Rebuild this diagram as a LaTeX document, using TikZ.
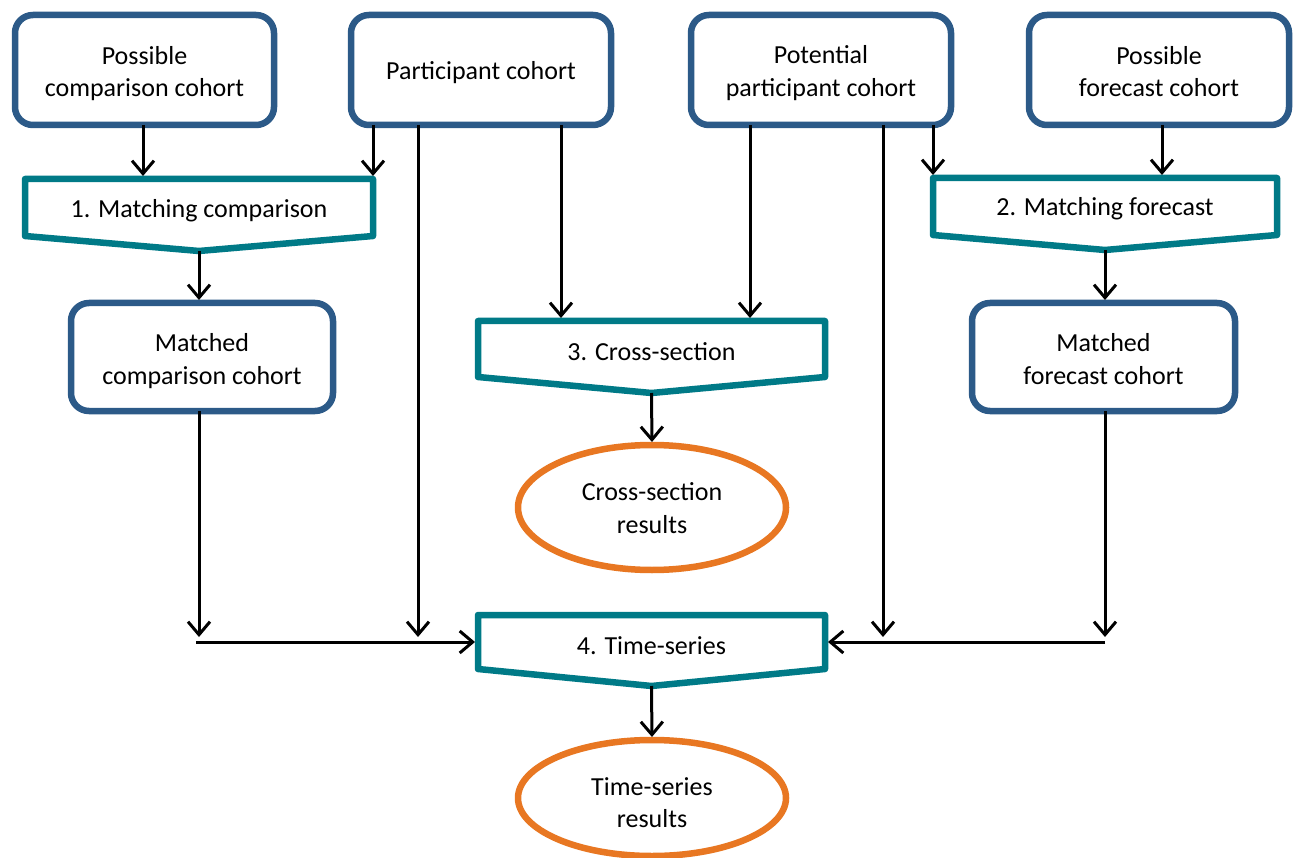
\documentclass[tikz,border=0pt]{standalone}
\usepackage{fontspec}
\setmainfont{Carlito}
\usetikzlibrary{arrows.meta,calc,shapes.geometric}
\definecolor{boxblue}{RGB}{44,90,136}
\definecolor{procteal}{RGB}{0,122,135}
\definecolor{resorange}{RGB}{232,119,34}
\tikzset{
  txt/.style={align=center,font=\fontsize{26}{32.5}\selectfont,text=black,inner sep=0pt,outer sep=0pt},
  cohort/.style={draw=boxblue,line width=6.5pt,rounded corners=18pt,rectangle,fill=white,inner sep=0pt,outer sep=0pt},
  procnode/.style={rectangle,inner sep=0pt,outer sep=0pt},
  procline/.style={draw=procteal,line width=6.5pt,line join=round,fill=white},
  result/.style={ellipse,draw=resorange,line width=6.5pt,fill=white,inner sep=0pt,outer sep=0pt},
  arr/.style={line width=3pt,-{Straight Barb[length=13pt,width=22pt,line width=3pt]},shorten >=3pt}
}
\newcommand{\procshape}[2]{%
  \path[procline] (#1.north west) -- (#1.north east) -- (#1.south east) -- ($(#1.south)+(0,#2)$) -- (#1.south west) -- cycle;}
\begin{document}
\begin{tikzpicture}[x=1pt,y=-1pt]
\useasboundingbox (0,0) rectangle (1298,858);
% top cohorts
\node[cohort,minimum width=259pt,minimum height=110pt] (pcc) at (144.5,70) {};
\node[txt] (pcct) at ($(pcc)+(0,3.5)$) {Possible\\comparison cohort};
\node[cohort,minimum width=260pt,minimum height=110pt] (pc) at (481,70) {};
\node[txt] (pct) at ($(pc)+(0,3)$) {Participant cohort};
\node[cohort,minimum width=260pt,minimum height=110pt] (ppc) at (821,70) {};
\node[txt] (ppct) at ($(ppc)+(0,3)$) {Potential\\participant cohort};
\node[cohort,minimum width=260pt,minimum height=110pt] (pfc) at (1159,70) {};
\node[txt] (pfct) at ($(pfc)+(0,1.5)$) {Possible\\forecast cohort};
% process nodes
\node[procnode,minimum width=348pt,minimum height=57pt] (m1) at (199,207.5) {};
\procshape{m1}{15}
\node[txt] (m1t) at ($(m1)+(0,3)$) {1. Matching comparison};
\node[procnode,minimum width=344pt,minimum height=57pt] (m2) at (1105,206.5) {};
\procshape{m2}{15}
\node[txt] (m2t) at ($(m2)+(0,2)$) {2. Matching forecast};
\node[procnode,minimum width=347pt,minimum height=56pt] (cs) at (651.5,349) {};
\procshape{cs}{16}
\node[txt] (cst) at ($(cs)+(0,2.5)$) {3. Cross-section};
\node[procnode,minimum width=347pt,minimum height=54pt] (ts) at (651.5,642) {};
\procshape{ts}{17}
\node[txt] (tst) at ($(ts)+(0,4)$) {4. Time-series};
% matched cohorts
\node[cohort,minimum width=262pt,minimum height=108pt] (mcc) at (202,357) {};
\node[txt] (mcct) at ($(mcc)+(0,4)$) {Matched\\comparison cohort};
\node[cohort,minimum width=263pt,minimum height=108pt] (mfc) at (1103.5,357) {};
\node[txt] (mfct) at ($(mfc)+(0,2)$) {Matched\\forecast cohort};
% results
\node[result,minimum width=268pt,minimum height=125pt] (csr) at (652,507.5) {};
\node[txt] (csrt) at ($(csr)+(0,0.5)$) {Cross-section\\results};
\node[result,minimum width=268pt,minimum height=116pt] (tsr) at (652,798) {};
\node[txt] (tsrt) at ($(tsr)+(0,4.5)$) {Time-series\\results};
% junction coordinates
\coordinate (jl) at ($(m1.south |- ts.west)+(-3,0)$);
\coordinate (jr) at (m2.south |- ts.east);
% arrows from top cohorts
\draw[arr] ($(pcc.south)+(-1.5,0)$) -- ($(pcc.south |- m1.north)+(-1.5,0)$);
\draw[arr] (pc.south -| m1.north east) -- (m1.north east);
\draw[arr] ($(pc.south)+(-63,0)$) -- ($(pc.south |- ts.west)+(-63,-2)$);
\draw[arr] ($(pc.south)+(80,0)$) -- ($(pc.south |- cs.north)+(80,0)$);
\draw[arr] ($(ppc.south)+(-71,0)$) -- ($(ppc.south |- cs.north)+(-71,0)$);
\draw[arr] ($(ppc.south)+(62,0)$) -- ($(ppc.south |- ts.east)+(62,-2)$);
\draw[arr] (ppc.south -| m2.north west) -- (m2.north west);
\draw[arr] ($(pfc.south)+(3,0)$) -- ($(pfc.south |- m2.north)+(3,0)$);
% process outputs
\draw[arr] ($(m1.south)+(0,15)$) -- (m1.south |- mcc.north);
\draw[arr] ($(m2.south)+(0,15)$) -- (m2.south |- mfc.north);
\draw[arr] ($(cs.south)+(0,16)$) -- (csr.north);
\draw[arr] ($(ts.south)+(0,17)$) -- (tsr.north);
% into time-series
\draw[arr] (m1.south |- mcc.south) -- ($(m1.south |- ts.west)+(0,-2)$);
\draw[arr] (m2.south |- mfc.south) -- ($(m2.south |- ts.east)+(0,-2)$);
\draw[arr] (jl) -- (ts.west);
\draw[arr] (jr) -- (ts.east);
\end{tikzpicture}
\end{document}
